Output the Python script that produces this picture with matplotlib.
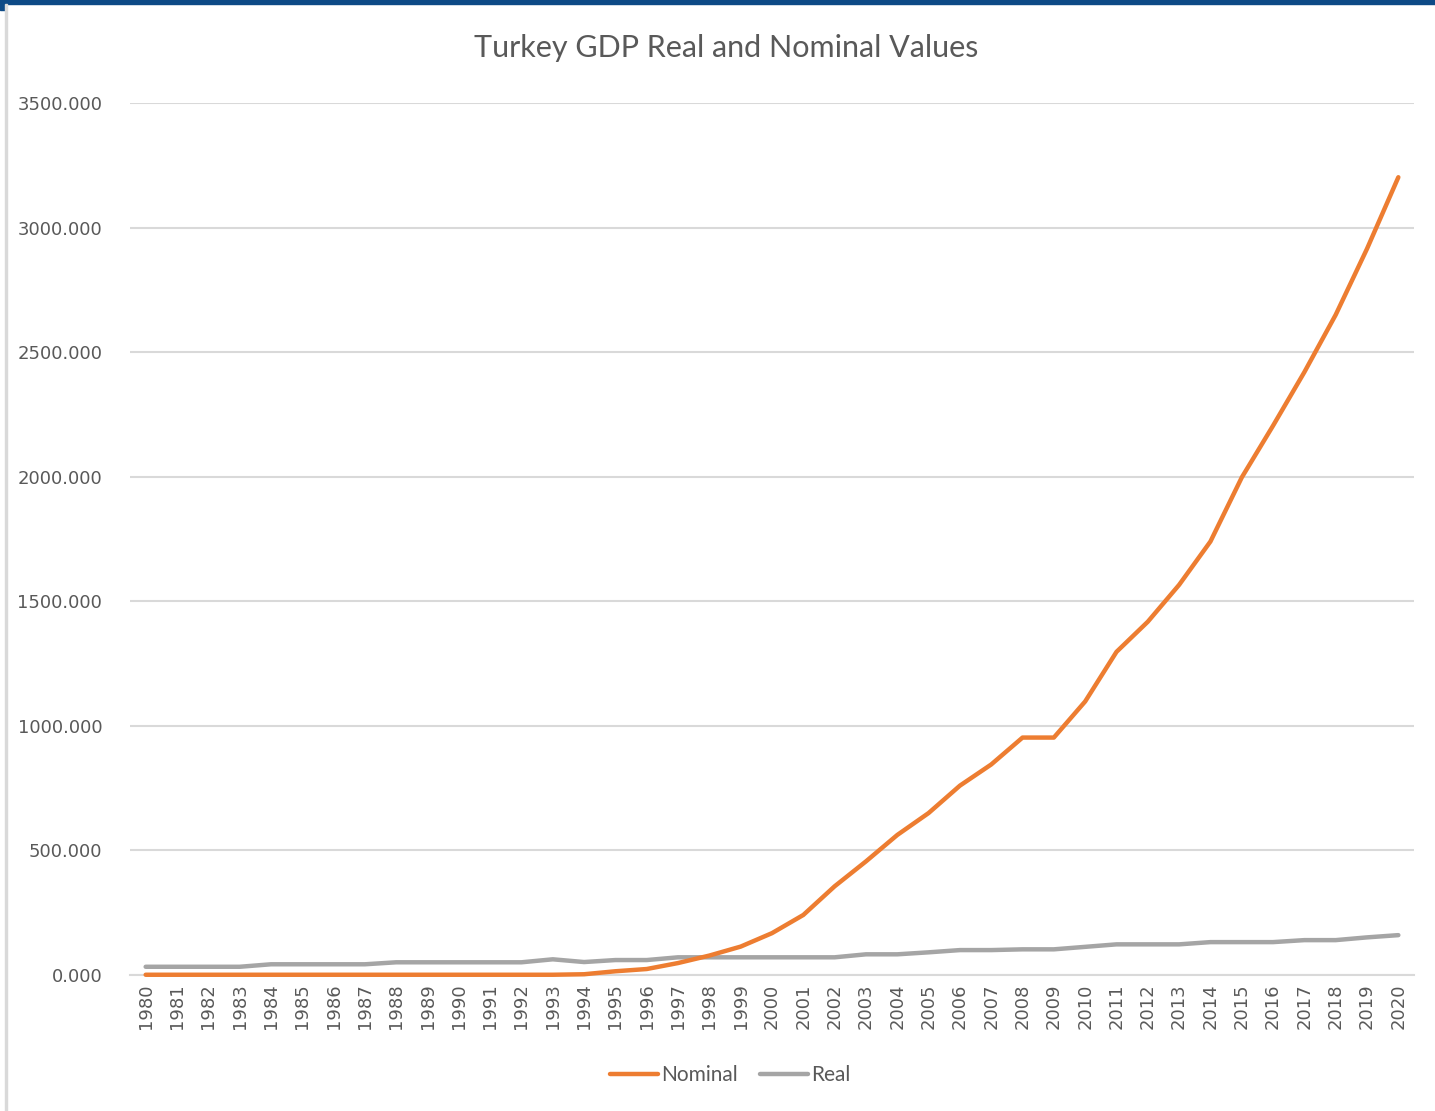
import matplotlib
matplotlib.use("Agg")
import matplotlib.pyplot as plt
from matplotlib.patches import Rectangle

# Data
years = [str(y) for y in range(1980, 2021)]
nominal = [1, 1, 1, 1, 1, 1, 1, 1, 1, 1, 1, 1, 1, 1, 3,
           15, 24, 48, 78, 114, 168, 241, 356, 456, 562, 650, 760, 845, 953, 953,
           1098, 1297, 1418, 1566, 1740, 1997, 2205, 2420, 2650, 2915, 3202]
real = [33, 33, 33, 33, 43, 43, 43, 43, 51, 51, 51, 51, 51, 63, 52,
        60, 60, 71, 71, 71, 71, 71, 71, 83, 83, 91, 100, 100, 103, 103,
        113, 123, 123, 123, 132, 132, 132, 140, 140, 151, 160]
y_ticks = [0, 500, 1000, 1500, 2000, 2500, 3000, 3500]

text_col = "#595959"
grid_col = "#d9d9d9"

fig = plt.figure(figsize=(14.35, 11.11), dpi=100)
ax = fig.add_axes([130 / 1435, 1 - 975 / 1111, 1284 / 1435, 872 / 1111])

x = range(len(years))
ax.plot(x, nominal, color="#ed7d31", linewidth=3.2, label="Nominal", zorder=4,
        clip_on=False, solid_capstyle="round", solid_joinstyle="round")
ax.plot(x, real, color="#a5a5a5", linewidth=3.2, label="Real", zorder=3,
        clip_on=False, solid_capstyle="round", solid_joinstyle="round")

ax.set_xlim(-0.5, len(years) - 0.5)
ax.set_ylim(0, 3500)
ax.set_yticks(y_ticks)
ax.set_yticklabels([f"{v:.3f}" for v in y_ticks])
ax.set_xticks(list(x))
ax.set_xticklabels(years, rotation=90)
ax.tick_params(axis="both", length=0, colors=text_col, labelsize=13)
ax.tick_params(axis="y", pad=20)
ax.tick_params(axis="x", pad=6)

ax.yaxis.grid(True, color=grid_col, linewidth=1.5)
ax.set_axisbelow(True)
for side in ["top", "right", "left"]:
    ax.spines[side].set_visible(False)
ax.spines["bottom"].set_color(grid_col)
ax.spines["bottom"].set_linewidth(1.5)

fig.text(726 / 1435, 1 - 48 / 1111, "Turkey GDP Real and Nominal Values",
         ha="center", va="center", fontsize=22, color=text_col, family="Lato")

leg = fig.legend(loc="center", bbox_to_anchor=(730 / 1435, 1 - 1075 / 1111),
                 ncol=2, frameon=False, handlelength=2.3, columnspacing=1.05,
                 handletextpad=0.15, prop={"family": "Lato", "size": 15})
for t in leg.get_texts():
    t.set_color(text_col)

# window frame: blue band on top, gray line on the left
fig.patches.append(Rectangle((0, 1 - 4 / 1111), 1, 4 / 1111, transform=fig.transFigure,
                             color="#0d4a86", zorder=5))
fig.patches.append(Rectangle((0, 1 - 10 / 1111), 5 / 1435, 10 / 1111, transform=fig.transFigure,
                             color="#0d4a86", zorder=5))
fig.patches.append(Rectangle((5 / 1435, 0), 2 / 1435, 1 - 4 / 1111, transform=fig.transFigure,
                             color="#d9d9d9", zorder=5))

fig.savefig("out.png", dpi=100)
